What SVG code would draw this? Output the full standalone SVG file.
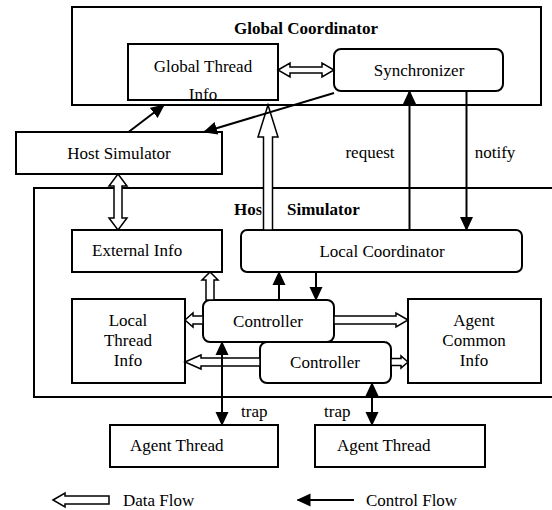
<svg xmlns="http://www.w3.org/2000/svg" width="552" height="510" viewBox="0 0 552 510">
<style>
text{font-family:"Liberation Serif","Times New Roman",serif;font-size:17px;fill:#000}
.b{font-weight:bold}
.m{text-anchor:middle}
.box{fill:#fff;stroke:#000;stroke-width:2}
.frame{fill:none;stroke:#000;stroke-width:2}
.hol{fill:#fff;stroke:#000;stroke-width:1.5;stroke-linejoin:miter}
.ctl{stroke:#000;stroke-width:2;fill:none}
</style>
<defs>
<marker id="ah" viewBox="0 0 14 14" refX="13" refY="7" markerWidth="14" markerHeight="14" markerUnits="userSpaceOnUse" orient="auto-start-reverse">
<path d="M0,0.5 L14,7 L0,13.5 z" fill="#000"/>
</marker>
<clipPath id="gtiClip"><rect x="128" y="44" width="150" height="55"/></clipPath>
</defs>
<rect width="552" height="510" fill="#fff"/>

<g id="global-coordinator">
<rect class="frame" x="72" y="7" width="469" height="98"/>
<text class="b m" x="306" y="34">Global Coordinator</text>
</g>
<g id="global-thread-info">
<rect class="box" x="128" y="44" width="150" height="56"/>
<text class="m" x="203" y="72">Global Thread</text>
<text class="m" x="203" y="100" clip-path="url(#gtiClip)">Info</text>
</g>
<g id="synchronizer">
<rect class="box" x="334" y="49" width="169" height="42" rx="7"/>
<text class="m" x="419" y="76">Synchronizer</text>
</g>
<g id="host-simulator-ext">
<rect class="box" x="16" y="132" width="206" height="42"/>
<text class="m" x="119" y="159">Host Simulator</text>
</g>
<g id="host-simulator">
<rect class="frame" x="34" y="188" width="530" height="209"/>
<text class="b" x="234" y="215">Host <tspan x="287">Simulator</tspan></text>
</g>
<g id="external-info">
<rect class="box" x="72" y="230" width="150" height="42"/>
<text x="92" y="256">External Info</text>
</g>
<g id="local-coordinator">
<rect class="box" x="241" y="230" width="281" height="42" rx="6"/>
<text class="m" x="382" y="257">Local Coordinator</text>
</g>
<g id="local-thread-info">
<rect class="box" x="72" y="299" width="113" height="84"/>
<text class="m" x="128" y="326">Local</text>
<text class="m" x="128" y="346">Thread</text>
<text class="m" x="128" y="366">Info</text>
</g>
<g id="agent-common-info">
<rect class="box" x="408" y="299" width="133" height="84"/>
<text class="m" x="474" y="326">Agent</text>
<text class="m" x="474" y="346">Common</text>
<text class="m" x="474" y="366">Info</text>
</g>
<g id="controller-1">
<rect class="box" x="203" y="300" width="131" height="42" rx="7"/>
<text class="m" x="268" y="327">Controller</text>
</g>
<g id="controller-2">
<rect class="box" x="260" y="342" width="131" height="41" rx="7"/>
<text class="m" x="325" y="368">Controller</text>
</g>
<g id="agent-thread-1">
<rect class="box" x="110" y="425" width="168" height="42"/>
<text x="130" y="451">Agent Thread</text>
</g>
<g id="agent-thread-2">
<rect class="box" x="315" y="425" width="170" height="42"/>
<text x="337" y="451">Agent Thread</text>
</g>

<g id="connectors">
<polygon class="hol" points="278,70 290,63 290,67 322,67 322,63 334,70 322,77 322,73 290,73 290,77"/>
<polygon class="hol" points="118,174 127,186 122,186 122,218 127,218 118,230 109,218 114,218 114,186 109,186"/>
<rect x="261.5" y="200" width="13" height="20" fill="#fff"/>
<polygon class="hol" points="268,105 278,137 272.5,137 272.5,230 263.5,230 263.5,137 258,137"/>
<polygon class="hol" points="210,272 218,280 214,280 214,300 206,300 206,280 202,280"/>
<polygon class="hol" points="185,320 193,313 193,316 203,316 203,324 193,324 193,327"/>
<polygon class="hol" points="408,320 396,313 396,316 334,316 334,324 396,324 396,327"/>
<polygon class="hol" points="185,362 201,355 201,358 260,358 260,366 201,366 201,369"/>
<polygon class="hol" points="408,362 401,356 401,358.5 391,358.5 391,365.5 401,365.5 401,368"/>

<line class="ctl" x1="128.5" y1="132" x2="164" y2="105" marker-end="url(#ah)"/>
<line class="ctl" x1="334" y1="93" x2="204" y2="132" marker-end="url(#ah)"/>
<line class="ctl" x1="409.5" y1="230" x2="409.5" y2="91" marker-end="url(#ah)"/>
<line class="ctl" x1="466.5" y1="91" x2="466.5" y2="230" marker-end="url(#ah)"/>
<line class="ctl" x1="279" y1="300" x2="279" y2="272" marker-end="url(#ah)"/>
<line class="ctl" x1="316" y1="272" x2="316" y2="300" marker-end="url(#ah)"/>
<line class="ctl" x1="222" y1="342" x2="222" y2="425" marker-start="url(#ah)" marker-end="url(#ah)"/>
<line class="ctl" x1="372" y1="383" x2="372" y2="425" marker-start="url(#ah)" marker-end="url(#ah)"/>
<text x="370" y="158" class="m">request</text>
<text x="495" y="158" class="m">notify</text>
<text x="241" y="417">trap</text>
<text x="324" y="417">trap</text>
</g>

<g id="legend">
<polygon class="hol" points="53,500 65,493 65,496 109,496 109,504 65,504 65,507"/>
<text x="123" y="506">Data Flow</text>
<line class="ctl" x1="354" y1="500" x2="297.5" y2="500" marker-end="url(#ah)"/>
<text x="366" y="506">Control Flow</text>
</g>
</svg>
